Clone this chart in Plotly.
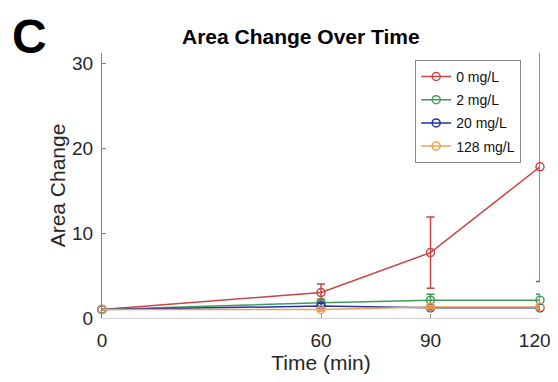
import plotly.graph_objects as go

time = [0, 60, 90, 120]
series_names = ["0 mg/L", "2 mg/L", "20 mg/L", "128 mg/L"]
means = {
    "0 mg/L": [1.0, 3.0, 7.7, 17.8],
    "2 mg/L": [1.0, 1.8, 2.1, 2.1],
    "20 mg/L": [1.0, 1.4, 1.2, 1.2],
    "128 mg/L": [1.0, 1.0, 1.3, 1.3],
}
errors = {
    "0 mg/L": [0.0, 1.0, 4.2, 13.5],
    "2 mg/L": [0.0, 0.4, 0.7, 0.7],
    "20 mg/L": [0.0, 0.3, 0.2, 0.2],
    "128 mg/L": [0.0, 0.2, 0.2, 0.2],
}
colors = {
    "0 mg/L": "#cc4444",
    "2 mg/L": "#449a55",
    "20 mg/L": "#2233aa",
    "128 mg/L": "#f0a050",
}
x_ticks = [0, 60, 90, 120]
x_tick_labels = ["0", "60", "90", "120\u2007"]
y_ticks = [0, 10, 20, 30]

fig = go.Figure()
for name in series_names:
    fig.add_trace(go.Scatter(
        x=time, y=means[name], name=name, mode="lines+markers",
        legendgroup=name, cliponaxis=False,
        line=dict(color=colors[name], width=1.5),
        marker=dict(symbol="circle-open", size=8, color=colors[name], line=dict(width=1.5)),
        error_y=dict(type="data", array=errors[name], visible=True,
                     color=colors[name], thickness=1.5, width=4),
    ))

fig.update_layout(
    width=550, height=366,
    margin=dict(l=94, r=18, t=45, b=56),
    paper_bgcolor="white", plot_bgcolor="white",
    font=dict(family="Liberation Sans, Arial, sans-serif", color="#262626"),
    title=dict(text="<b>Area Change Over Time</b>", x=0.454, xref="paper", xanchor="center",
               y=1 - 29 / 366, yref="container", yanchor="middle", font=dict(size=21, color="black")),
    showlegend=True,
    legend=dict(x=0.715, y=0.974, xanchor="left", yanchor="top",
                bgcolor="white", bordercolor="#888888", borderwidth=1,
                font=dict(size=14, color="#111111"), tracegroupgap=2,
                itemwidth=30),
    xaxis=dict(range=[0, 120], tickvals=x_ticks, ticktext=x_tick_labels,
               showgrid=False, zeroline=False, ticklabeloverflow="allow",
               showline=True, linecolor="#d0d0d0", linewidth=1, automargin=False,
               ticks="inside", ticklen=4, tickcolor="#999999", ticklabelstandoff=5,
               tickfont=dict(size=19, color="#262626"),
               title=dict(text="Time (min)", font=dict(size=21, color="#262626"), standoff=13)),
    yaxis=dict(range=[0, 31.2], tickvals=y_ticks, showgrid=False, zeroline=False,
               showline=True, linecolor="#808080", linewidth=1.2, automargin=False,
               ticks="inside", ticklen=4, tickcolor="#808080", ticklabelstandoff=4,
               tickfont=dict(size=19, color="#262626"),
               title=dict(text="Area Change", font=dict(size=21, color="#262626"), standoff=0)),
)
fig.add_annotation(text="<b>C</b>", xref="paper", yref="paper", x=-0.211, y=1.168,
                   xanchor="left", yanchor="top", showarrow=False,
                   font=dict(size=48, color="black"))

fig.write_html("out.html")
